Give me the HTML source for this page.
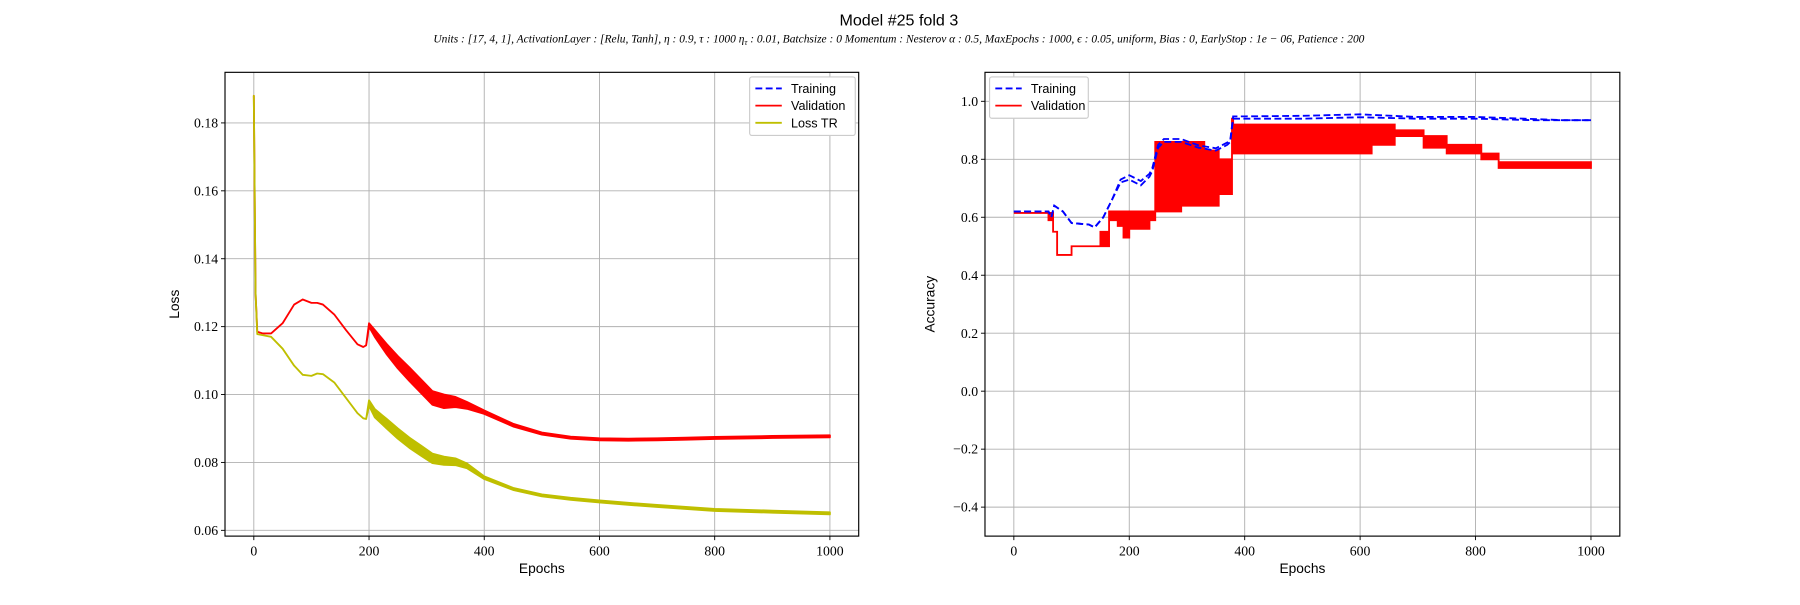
<!DOCTYPE html>
<html><head><meta charset="utf-8"><style>
body{margin:0;background:#fff;width:1800px;height:600px;overflow:hidden}
svg text{font-family:"Liberation Serif",serif;font-size:12px;fill:#000}
.sans{font-family:"Liberation Sans",sans-serif!important}
</style></head><body>
<svg width="1800" height="600">
<g id="c" transform="scale(1.148)">
<text class="sans" x="783" y="22" text-anchor="middle" style="font-size:14px">Model #25 fold 3</text>
<text x="783" y="37" text-anchor="middle" style="font-size:10px;font-style:italic">Units : [17, 4, 1], ActivationLayer : [Relu, Tanh], η : 0.9, τ : 1000 η<tspan dy="2" style="font-size:7px">τ</tspan><tspan dy="-2"> : 0.01, Batchsize : 0 Momentum : Nesterov α : 0.5, MaxEpochs : 1000, ϵ : 0.05, uniform, Bias : 0, EarlyStop : 1e − 06, Patience : 200</tspan></text>
</g>
</svg>
<script>
// Left chart (loss)
const lossEpochs=[0,3,6,15,30,50,70,85,100,110,120,140,160,180,190,195,200,210,230,250,270,290,310,330,350,370,400,450,500,550,600,650,700,750,800,900,1000];
const valLoss=[0.188,0.130,0.1185,0.118,0.118,0.121,0.1265,0.128,0.127,0.127,0.1265,0.1235,0.119,0.1148,0.114,0.1145,0.1205,0.118,0.1135,0.1095,0.106,0.1025,0.099,0.098,0.0978,0.0968,0.0948,0.091,0.0885,0.0873,0.0868,0.0867,0.0868,0.087,0.0872,0.0875,0.0877];
const valBand=[0,0,0,0,0,0,0,0,0,0,0,0,0,0,0,0,0.0005,0.001,0.0015,0.0018,0.002,0.002,0.002,0.002,0.0015,0.001,0.0005,0.0004,0.0003,0.0003,0.0003,0.0003,0.0003,0.0003,0.0003,0.0003,0.0003];
const trLoss=[0.188,0.130,0.1178,0.1175,0.117,0.1135,0.1085,0.1058,0.1055,0.1062,0.106,0.1035,0.099,0.0945,0.093,0.0928,0.0975,0.0945,0.0915,0.0885,0.0858,0.0835,0.0812,0.0805,0.0802,0.079,0.0755,0.0722,0.0703,0.0693,0.0685,0.0678,0.0672,0.0666,0.066,0.0655,0.065];
const trBand=[0,0,0,0,0,0,0,0,0,0,0,0,0,0,0,0,0.0008,0.0012,0.0014,0.0015,0.0015,0.0015,0.0014,0.0012,0.001,0.0007,0.0004,0.0003,0.0003,0.0003,0.0003,0.0003,0.0003,0.0003,0.0003,0.0003,0.0003];
const lossYTicks=[0.06,0.08,0.10,0.12,0.14,0.16,0.18];
const epochTicks=[0,200,400,600,800,1000];
// Right chart (accuracy)
const accEpochs=[0,60,65,70,85,100,130,140,155,170,185,200,220,235,240,250,260,290,320,350,370,375,380,400,500,600,700,800,900,950,1000];
const trAcc=[0.62,0.62,0.60,0.64,0.62,0.58,0.575,0.565,0.60,0.66,0.72,0.73,0.71,0.74,0.76,0.84,0.86,0.86,0.84,0.83,0.85,0.86,0.94,0.94,0.94,0.945,0.94,0.94,0.935,0.935,0.935];
const trAccBand=[0,0,0,0,0,0,0,0,0,0,0.01,0.015,0.015,0.01,0.01,0.01,0.01,0.01,0.008,0.008,0.008,0.006,0.008,0.008,0.01,0.01,0.006,0.006,0.004,0,0];
const valStepEpochs=[0,60,68,75,100,150,165,180,190,200,235,245,290,330,355,378,380,600,620,660,710,750,810,840,1000];
const valAccLo=[0.615,0.59,0.55,0.47,0.50,0.50,0.59,0.57,0.53,0.56,0.59,0.62,0.64,0.64,0.68,0.82,0.82,0.82,0.85,0.88,0.84,0.82,0.80,0.77,0.77];
const valAccHi=[0.615,0.615,0.55,0.47,0.50,0.55,0.62,0.62,0.62,0.62,0.62,0.86,0.86,0.83,0.80,0.94,0.92,0.92,0.92,0.90,0.88,0.85,0.82,0.79,0.79];
const accYTicks=[-0.4,-0.2,0.0,0.2,0.4,0.6,0.8,1.0];

const svg=document.getElementById('c');const NS='http://www.w3.org/2000/svg';
function mk(t,a,p){const e=document.createElementNS(NS,t);for(const k in a)e.setAttribute(k,a[k]);(p||svg).appendChild(e);return e;}
function axis(L,R,T,B,x0,x1,y0,y1){return{L,R,T,B,x:v=>L+(v-x0)/(x1-x0)*(R-L),y:v=>B-(v-y0)/(y1-y0)*(B-T)};}
function frame(ax,yt,fmt,ylab,nm){
  const g=mk('g',{});
  
  
  epochTicks.forEach(t=>{const X=ax.x(t);
    mk('line',{x1:X,x2:X,y1:ax.T,y2:ax.B,stroke:'#b0b0b0','stroke-width':0.8},g);
    mk('line',{x1:X,x2:X,y1:ax.B,y2:ax.B+3.5,stroke:'#000','stroke-width':0.8},g);
    const tx=mk('text',{x:X,y:ax.B+17,'text-anchor':'middle'},g);tx.textContent=t;
    
    });
  yt.forEach(t=>{const Y=ax.y(t);
    mk('line',{x1:ax.L,x2:ax.R,y1:Y,y2:Y,stroke:'#b0b0b0','stroke-width':0.8},g);
    mk('line',{x1:ax.L-3.5,x2:ax.L,y1:Y,y2:Y,stroke:'#000','stroke-width':0.8},g);
    const tx=mk('text',{x:ax.L-6,y:Y+4,'text-anchor':'end'},g);tx.textContent=fmt(t);
    
    });
  const xl=mk('text',{x:(ax.L+ax.R)/2,y:ax.B+32,'text-anchor':'middle',class:'sans'},g);xl.textContent='Epochs';
  
  
  const yl=mk('text',{x:0,y:0,'text-anchor':'middle',class:'sans',transform:`translate(${ax.L-ylab},${(ax.T+ax.B)/2}) rotate(-90)`},g);yl.textContent=nm==='loss'?'Loss':'Accuracy';
  
  
}
function border(ax){const r=mk('rect',{x:ax.L,y:ax.T,width:ax.R-ax.L,height:ax.B-ax.T,fill:'none',stroke:'#000','stroke-width':1});
  
  }
function band(ax,xs,c,w,col,nm){
  const up=xs.map((x,i)=>ax.x(x)+','+ax.y(c[i]+w[i])),lo=xs.map((x,i)=>ax.x(x)+','+ax.y(c[i]-w[i])).reverse();
  const p=mk('polygon',{points:up.concat(lo).join(' '),fill:col,stroke:col,'stroke-width':1.6,'stroke-linejoin':'round'});
  
  }

const A=axis(196,748,63,467,-50,1050,0.0583,0.1949);
frame(A,lossYTicks,t=>t.toFixed(2),40,'loss');
band(A,lossEpochs,valLoss,valBand,'#ff0000','validation-loss-line');
band(A,lossEpochs,trLoss,trBand,'#bfbf00','training-loss-line');
border(A);

const B=axis(858,1411,63,467,-50,1050,-0.5,1.1);
frame(B,accYTicks,t=>(t<0?'\u2212'+(-t).toFixed(1):t.toFixed(1)),44,'accuracy');
{const up=[],lo=[];valStepEpochs.forEach((e,i)=>{const n=i<valStepEpochs.length-1?valStepEpochs[i+1]:e;
  up.push(B.x(e)+','+B.y(valAccHi[i]),B.x(n)+','+B.y(valAccHi[i]));
  lo.push(B.x(e)+','+B.y(valAccLo[i]),B.x(n)+','+B.y(valAccLo[i]));});
 const p=mk('polygon',{points:up.concat(lo.reverse()).join(' '),fill:'#ff0000',stroke:'#ff0000','stroke-width':1.6});
 
 }
{const pl=mk('polyline',{points:accEpochs.map((e,i)=>B.x(e)+','+B.y(trAcc[i])).join(' '),fill:'none',stroke:'#0000ff','stroke-width':1.6,'stroke-dasharray':'6 3'});
 
 
 const up=accEpochs.map((e,i)=>B.x(e)+','+B.y(trAcc[i]+trAccBand[i])).join(' ');
 const pl2=mk('polyline',{points:up,fill:'none',stroke:'#0000ff','stroke-width':1.6,'stroke-dasharray':'6 3'});
 
 }
border(B);

function legend(x,y,items,nm){const g=mk('g',{});
  
  
  const w=items.length===3?92:86;
  mk('rect',{x:x,y:y,width:w,height:items.length*15+6,fill:'#fff',stroke:'#ccc',rx:2},g);
  items.forEach((it,i)=>{const Y=y+10+i*15;
    mk('line',{x1:x+5,x2:x+28,y1:Y,y2:Y,stroke:it[1],'stroke-width':1.6,'stroke-dasharray':it[2]||''},g);
    const t=mk('text',{x:x+36,y:Y+4,class:'sans',style:'font-size:11px'},g);t.textContent=it[0];
    
    });}
legend(653,67,[['Training','#0000ff','6 3'],['Validation','#ff0000'],['Loss TR','#bfbf00']],'loss-legend');
legend(862,67,[['Training','#0000ff','6 3'],['Validation','#ff0000']],'accuracy-legend');
</script>
</body></html>
